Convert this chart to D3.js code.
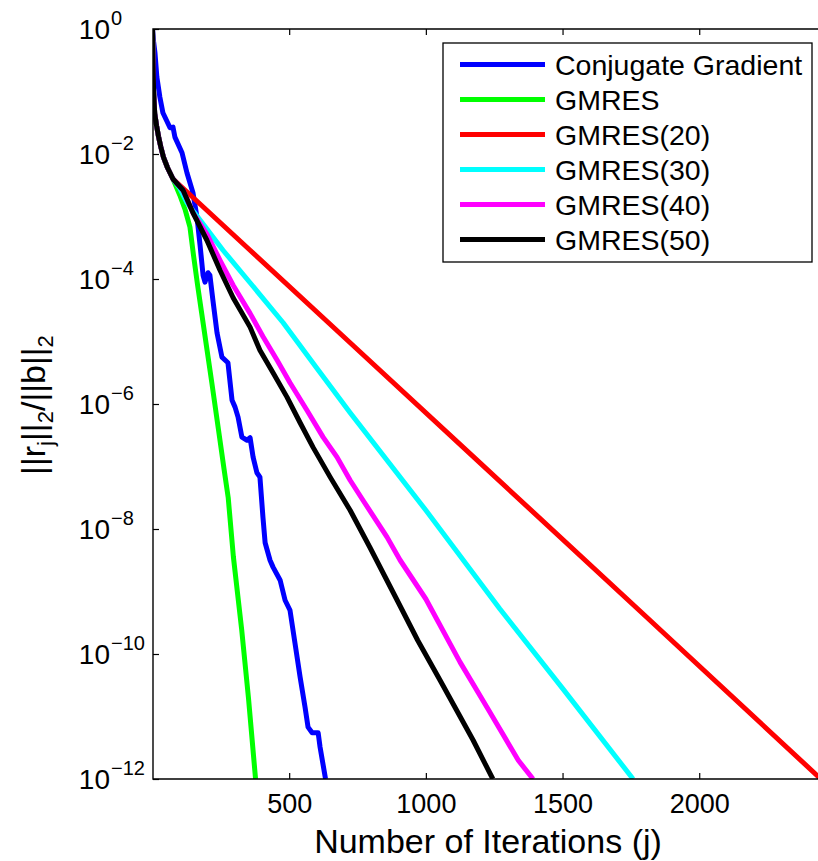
<!DOCTYPE html>
<html>
<head>
<meta charset="utf-8">
<script src="https://cdn.jsdelivr.net/npm/d3@7"></script>
<style>
  html, body { margin: 0; padding: 0; background: #fff; }
  svg { display: block; }
  text { font-family: "Liberation Sans", Arial, Helvetica, sans-serif; fill: #000; }
</style>
</head>
<body>
<svg id="chart" width="818" height="861"></svg>
<script>
// ---------------- data (iteration, log10 of relative residual) ----------------
const seriesNames = ["Conjugate Gradient", "GMRES", "GMRES(20)", "GMRES(30)", "GMRES(40)", "GMRES(50)"];
const seriesColors = ["#0000ff", "#00ff00", "#ff0000", "#00ffff", "#ff00ff", "#000000"];

const sharedIter = [0, 2, 4, 8, 15, 22, 30, 40, 55, 75];
const sharedLog  = [0, -0.5, -1.0, -1.35, -1.55, -1.72, -1.88, -2.05, -2.22, -2.40];

const cgIter = [0, 4, 9, 16, 27, 38, 64, 75, 82, 108, 126, 148, 163, 174, 185, 192, 203, 210, 221, 236, 254, 276, 291, 302, 313, 327, 346, 357, 368, 382, 393, 404, 412, 430, 441, 467, 485, 503, 521, 540, 558, 569, 584, 606, 613, 633];
const cgLog  = [0, -0.2, -0.38, -0.77, -1.09, -1.34, -1.58, -1.57, -1.73, -1.98, -2.30, -2.62, -3.02, -3.46, -3.94, -4.05, -3.90, -3.94, -4.34, -4.86, -5.25, -5.34, -5.94, -6.05, -6.21, -6.53, -6.58, -6.54, -6.85, -7.10, -7.17, -7.81, -8.22, -8.50, -8.61, -8.82, -9.14, -9.30, -9.82, -10.37, -10.85, -11.17, -11.26, -11.26, -11.49, -12.0];

const gmresIter = [100, 120, 137, 150, 165, 180, 200, 217, 241, 262, 277, 296, 326, 351, 377];
const gmresLog  = [-2.66, -2.90, -3.17, -3.62, -4.10, -4.55, -5.15, -5.66, -6.40, -7.05, -7.50, -8.45, -9.60, -10.70, -12.0];

const gmres20Iter = [357, 723, 1200, 1800, 2445];
const gmres20Log  = [-3.54, -5.02, -6.95, -9.38, -12.0];

const gmres30Iter = [100, 126, 190, 258, 357, 478, 600, 723, 1000, 1271, 1500, 1758];
const gmres30Log  = [-2.55, -2.78, -3.15, -3.54, -4.06, -4.70, -5.42, -6.14, -7.70, -9.28, -10.55, -12.0];

const gmres50Iter = [112, 148, 199, 247, 295, 357, 393, 441, 492, 540, 587, 650, 723, 796, 895, 970, 1052, 1110, 1173, 1245];
const gmres50Log  = [-2.58, -2.94, -3.38, -3.86, -4.30, -4.77, -5.14, -5.50, -5.89, -6.30, -6.69, -7.17, -7.70, -8.30, -9.14, -9.78, -10.42, -10.88, -11.38, -12.0];

const gmres40Iter = [112, 148, 199, 247, 295, 357, 404, 456, 503, 565, 624, 675, 723, 770, 858, 906, 1000, 1125, 1230, 1338, 1392];
const gmres40Log  = [-2.58, -2.94, -3.28, -3.70, -4.10, -4.55, -4.92, -5.30, -5.66, -6.10, -6.53, -6.85, -7.22, -7.54, -8.13, -8.50, -9.12, -10.13, -10.90, -11.70, -12.0];

const xTicks = [500, 1000, 1500, 2000];
const yTickExps = [0, -2, -4, -6, -8, -10, -12];
const xDomain = [0, 2440];
const yDomain = [1, 1e-12];

// ---------------- build series ----------------
function pts(iter, lg) { return iter.map((d, i) => ({ it: d, r: Math.pow(10, lg[i]) })); }
const shared = pts(sharedIter, sharedLog);
const series = [
  pts(cgIter, cgLog),
  shared.concat(pts(gmresIter, gmresLog)),
  shared.concat(pts(gmres20Iter, gmres20Log)),
  shared.concat(pts(gmres30Iter, gmres30Log)),
  shared.concat(pts(gmres40Iter, gmres40Log)),
  shared.concat(pts(gmres50Iter, gmres50Log))
];

// ---------------- layout ----------------
const L = 153, R = 819.5, T = 29, B = 779;
const svg = d3.select("#chart");
const x = d3.scaleLinear().domain(xDomain).range([L - 0.5, R]);
const y = d3.scaleLog().domain(yDomain).range([T, B]);

svg.append("defs").append("clipPath").attr("id", "clip")
  .append("rect").attr("x", L).attr("y", T).attr("width", R - L).attr("height", B - T);

const line = d3.line().x(d => x(d.it)).y(d => y(d.r)).curve(d3.curveLinear);

const g = svg.append("g").attr("clip-path", "url(#clip)");
series.forEach((s, i) => {
  g.append("path").datum(s)
    .attr("d", line)
    .attr("fill", "none")
    .attr("stroke", seriesColors[i])
    .attr("stroke-width", 5)
    .attr("stroke-linejoin", "round")
    .attr("stroke-linecap", "butt");
});

// ---------------- axes (box with inward ticks) ----------------
const axisStyle = sel => {
  sel.select(".domain").remove();
  sel.selectAll(".tick line").attr("stroke", "#000").attr("stroke-width", 1.2);
};
const xb = svg.append("g").attr("transform", `translate(0,${B})`)
  .call(d3.axisBottom(x).tickValues(xTicks).tickSize(-6).tickPadding(15).tickFormat(d3.format("d")));
axisStyle(xb);
xb.selectAll("text").attr("font-size", 27).attr("font-family", "Liberation Sans, Arial, sans-serif");

const xt = svg.append("g").attr("transform", `translate(0,${T})`)
  .call(d3.axisTop(x).tickValues(xTicks).tickSize(-6).tickFormat(""));
axisStyle(xt);

const yl = svg.append("g").attr("transform", `translate(${L},0)`)
  .call(d3.axisLeft(y).tickValues(yTickExps.map(e => Math.pow(10, e))).tickSize(-6).tickFormat(""));
axisStyle(yl);

// frame
svg.append("path")
  .attr("d", `M${R},${B}H${L}V${T}H${R}`)
  .attr("fill", "none").attr("stroke", "#000").attr("stroke-width", 1.4);

// y tick labels with superscripts
yTickExps.forEach(e => {
  const yy = y(Math.pow(10, e));
  svg.append("text").attr("x", 110).attr("y", yy + 10)
    .attr("text-anchor", "end").attr("font-size", 28).text("10");
  svg.append("text").attr("x", 111).attr("y", yy - 4)
    .attr("text-anchor", "start").attr("font-size", 20)
    .text(e === 0 ? "0" : "\u2212" + Math.abs(e));
});

// axis labels
svg.append("text").attr("x", 488).attr("y", 853)
  .attr("text-anchor", "middle").attr("font-size", 34)
  .text("Number of Iterations (j)");

const ylab = svg.append("text")
  .attr("transform", "translate(45,405) rotate(-90)")
  .attr("text-anchor", "middle").attr("font-size", 34);
ylab.append("tspan").text("||r");
ylab.append("tspan").attr("font-size", 22).attr("dy", 8).text("j");
ylab.append("tspan").attr("dy", -8).text("||");
ylab.append("tspan").attr("font-size", 22).attr("dy", 8).text("2");
ylab.append("tspan").attr("dy", -8).text("/||b||");
ylab.append("tspan").attr("font-size", 22).attr("dy", 8).text("2");

// ---------------- legend ----------------
const lg = svg.append("g");
lg.append("rect").attr("x", 443).attr("y", 43).attr("width", 369).attr("height", 219)
  .attr("fill", "#fff").attr("stroke", "#000").attr("stroke-width", 1.3);
seriesNames.forEach((name, i) => {
  const yy = 64.5 + 35 * i;
  lg.append("line").attr("x1", 460).attr("x2", 545).attr("y1", yy).attr("y2", yy)
    .attr("stroke", seriesColors[i]).attr("stroke-width", 5);
  lg.append("text").attr("x", 555).attr("y", yy + 10).attr("font-size", 28.5).text(name);
});
</script>
</body>
</html>
